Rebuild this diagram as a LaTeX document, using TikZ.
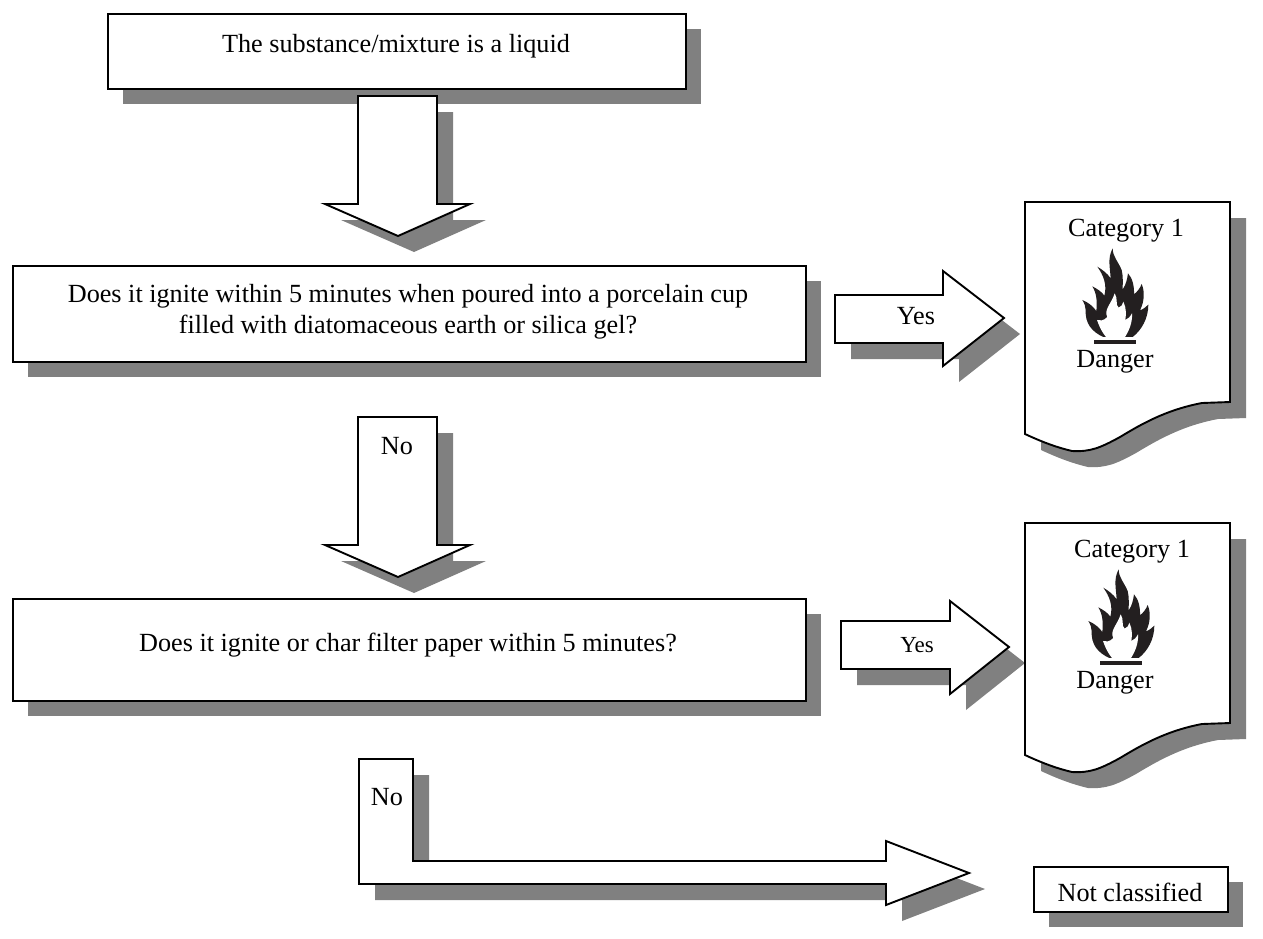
\documentclass[tikz,border=0pt]{standalone}
\usepackage{fontspec}
\setmainfont{Liberation Serif}
\definecolor{shade}{HTML}{808080}
\definecolor{ink}{HTML}{231F20}
\newcommand{\bigfont}{\fontsize{26.2}{31}\selectfont}
\newcommand{\smallfont}{\fontsize{23}{28}\selectfont}
\tikzset{
  x=1pt,y=-1pt,
  outline/.style={draw=black,line width=1.9pt,fill=white,line join=miter},
  shadow/.style={fill=shade,draw=none,shift={(16,16)}},
  lbl/.style={font=\bigfont,inner sep=0pt,align=center,text=black},
  slbl/.style={font=\smallfont,inner sep=0pt,align=center,text=black},
  flame/.pic={
    \begin{scope}[x=0.3333pt,y=-0.3333pt]
    \fill[ink] (250,426) .. controls (215,410) and (195,385) .. (197,345)
      .. controls (197,335) and (193,325) .. (187,315)
      .. controls (205,322) and (220,335) .. (229,348)
      .. controls (232,320) and (230,295) .. (217,274)
      .. controls (232,282) and (245,290) .. (253,302)
      .. controls (262,270) and (250,240) .. (232,215)
      .. controls (248,225) and (262,235) .. (272,250)
      .. controls (270,215) and (262,190) .. (278,160)
      .. controls (278,185) and (295,200) .. (305,225)
      .. controls (310,245) and (308,265) .. (308,283)
      .. controls (318,270) and (322,250) .. (324,235)
      .. controls (338,250) and (343,275) .. (342,298)
      .. controls (352,290) and (360,280) .. (365,267)
      .. controls (375,290) and (373,320) .. (360,346)
      .. controls (368,343) and (378,337) .. (385,329)
      .. controls (385,370) and (365,405) .. (338,426) -- cycle;
    \fill[white] (258,426) .. controls (245,410) and (238,395) .. (231,375)
      .. controls (240,378) and (250,378) .. (262,366)
      .. controls (250,345) and (275,325) .. (284,295)
      .. controls (295,310) and (285,330) .. (296,338)
      .. controls (305,335) and (308,328) .. (310,320)
      .. controls (320,340) and (318,360) .. (316,375)
      .. controls (325,372) and (330,365) .. (336,355)
      .. controls (338,385) and (325,410) .. (315,426) -- cycle;
    \fill[ink] (222,436) rectangle (348,446);
    \end{scope}
  }
}
\newcommand{\docpath}{(1025,202) -- (1230,202) -- (1230,402) -- (1202,403)
  .. controls (1165,410) and (1140,425) .. (1120,437)
  .. controls (1100,448) and (1090,452) .. (1072,451)
  .. controls (1055,447) and (1040,441) .. (1025,434) -- cycle}
\newcommand{\downarrowpath}[1]{(358,#1) -- (437,#1) -- (437,#1+108) -- (470,#1+108) -- (398,#1+140) -- (325,#1+108) -- (358,#1+108) -- cycle}
\begin{document}
\begin{tikzpicture}
\useasboundingbox (0,0) rectangle (1263,938);
% shadows
\fill[shadow] (107,13) rectangle (685,88);
\fill[shadow] (358,96) -- (437,96) -- (437,204) -- (470,204) -- (398,236) -- (325,204) -- (358,204) -- cycle;
\fill[shadow] (12,265) rectangle (805,361);
\fill[shadow] (835,295) -- (943,295) -- (943,271) -- (1004,318) -- (943,366) -- (943,343) -- (835,343) -- cycle;
\fill[shadow] \docpath;
\fill[shadow] (358,417) -- (437,417) -- (437,545) -- (470,545) -- (398,577) -- (325,545) -- (358,545) -- cycle;
\fill[shadow] (12,598) rectangle (805,700);
\fill[shadow] (841,621) -- (950,621) -- (950,601) -- (1009,647) -- (950,694) -- (950,669) -- (841,669) -- cycle;
\begin{scope}[yshift=-321pt]
\fill[shadow] \docpath;
\end{scope}
\fill[shadow] (359,759) -- (413,759) -- (413,861) -- (886,861) -- (886,841) -- (969,873) -- (886,905) -- (886,884) -- (359,884) -- cycle;
\fill[shadow] (1033,866) rectangle (1227,911);
% shapes
\node[outline,lbl,minimum width=578pt,minimum height=75pt,anchor=north west] (start) at (107,13) {};
\node[lbl] (starttext) at (396,46) {The substance/mixture is a liquid};
\draw[outline] (358,96) -- (437,96) -- (437,204) -- (470,204) -- (398,236) -- (325,204) -- (358,204) -- cycle;
\node[outline,lbl,minimum width=793pt,minimum height=96pt,anchor=north west] (q1) at (12,265) {};
\node[lbl] (q1text) at (408,312) {Does it ignite within 5 minutes when poured into a porcelain cup\\filled with diatomaceous earth or silica gel?};
\draw[outline] (835,295) -- (943,295) -- (943,271) -- (1004,318) -- (943,366) -- (943,343) -- (835,343) -- cycle;
\node[lbl] (yes1) at (916,316) {Yes};
\draw[outline] \docpath;
\node[lbl] (cat1) at (1126,231) {Category 1};
\pic at (1020,195) {flame};
\node[lbl] (dan1) at (1115,362) {Danger};
\draw[outline] (358,417) -- (437,417) -- (437,545) -- (470,545) -- (398,577) -- (325,545) -- (358,545) -- cycle;
\node[lbl] (no1) at (397,446) {No};
\node[outline,lbl,minimum width=793pt,minimum height=102pt,anchor=north west] (q2) at (12,598) {};
\node[lbl] (q2text) at (408,645) {Does it ignite or char filter paper within 5 minutes?};
\draw[outline] (841,621) -- (950,621) -- (950,601) -- (1009,647) -- (950,694) -- (950,669) -- (841,669) -- cycle;
\node[slbl] (yes2) at (917,645) {Yes};
\begin{scope}[yshift=-321pt]
\draw[outline] \docpath;
\end{scope}
\node[lbl] (cat2) at (1132,552) {Category 1};
\pic at (1026,516) {flame};
\node[lbl] (dan2) at (1115,683) {Danger};
\draw[outline] (359,759) -- (413,759) -- (413,861) -- (886,861) -- (886,841) -- (969,873) -- (886,905) -- (886,884) -- (359,884) -- cycle;
\node[lbl] (no2) at (387,797) {No};
\node[outline,lbl,minimum width=194pt,minimum height=45pt,anchor=north west] (nc) at (1033,866) {};
\node[lbl] (nctext) at (1130,892) {Not classified};
\end{tikzpicture}
\end{document}
